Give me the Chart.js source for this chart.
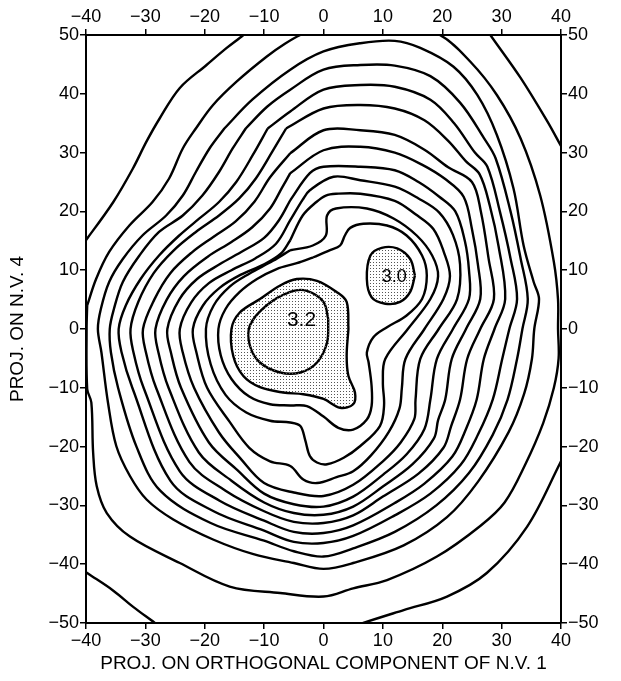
<!DOCTYPE html>
<html>
<head>
<meta charset="utf-8">
<script src="https://cdn.jsdelivr.net/npm/chart.js@4.4.0/dist/chart.umd.min.js"></script>
<style>
  html, body { margin: 0; padding: 0; background: #fff; }
  #wrap { width: 621px; height: 681px; position: relative; }
</style>
</head>
<body>
<div id="wrap"><canvas id="contourChart"></canvas></div>
<script>
// axis ticks
const xTicks = [-40, -30, -20, -10, 0, 10, 20, 30, 40];
const yTicks = [-50, -40, -30, -20, -10, 0, 10, 20, 30, 40, 50];

// peak labels [text, x, y]
const peakLabels = [["3.2", -3.7, 1.5], ["3.0", 11.9, 8.8]];

// contours, [x, y]
const level32 = [[0.8,1.7],[0,4.6],[-2.8,6.5],[-5.6,6.3],[-9.6,4.0],[-12.4,0.6],[-12.4,-2.8],[-10.7,-5.7],[-7.3,-7.4],[-3.9,-7.4],[-1.1,-5.7],[0.6,-2.3],[0.8,1.7]];
const level30a = [[4.2,0],[3.9,4.6],[2.2,6.3],[-1.1,8.2],[-4.5,8.5],[-7.3,7.4],[-10.7,5.1],[-14.1,2.8],[-15.5,0],[-15.2,-4.6],[-13.5,-8.0],[-10.7,-9.9],[-6.8,-10.8],[-3.4,-11.1],[0,-11.9],[2.8,-13.4],[5.0,-12.8],[5.3,-10.8],[4.2,-8.0],[3.9,-4.6],[4.2,0]];
const level30b = [[15.4,9.1],[14.6,11.9],[12.4,13.7],[9.8,13.8],[7.9,12.5],[7.3,8.5],[8.1,5.4],[10.4,4.3],[12.9,4.6],[14.6,6.3],[15.4,9.1]];

const lev1 = [[-1.7,12.2],[1.1,13.4],[2.8,14.2],[3.6,15.9],[4.5,17.2],[6.7,17.9],[10.7,17.6],[14,15.9],[16.6,12.5],[17.4,9.1],[16.6,5.1],[14,2.3],[10.7,0.3],[8.4,-1.4],[7.3,-4],[7.6,-5.7],[8.1,-9.7],[8.1,-13.1],[7.3,-15.4],[5,-17.1],[2.5,-16.8],[0,-14.9],[-2.8,-13.1],[-5.6,-13],[-9,-12.8],[-12.5,-11.5],[-15.5,-8.5],[-17.3,-4.5],[-17.7,0],[-16.5,3.4],[-14.1,6.3],[-11.2,8.5],[-7.9,10.2],[-4.5,11.2],[-1.7,12.2]];
const lev2 = [[-5.6,13.4],[-1.8,14.2],[0.4,15.9],[0.6,19.3],[2.1,20.5],[7.3,20.5],[11.8,18.8],[15.7,15.9],[18.3,12.5],[19.3,9],[18,5.1],[14.2,0],[10.4,-5.1],[10,-9],[10.2,-13],[9.5,-16.5],[6.2,-19.9],[3.4,-21.9],[0.6,-23],[-1.1,-22.7],[-2.3,-21.6],[-3.1,-18.8],[-3.9,-16.5],[-5.6,-15.9],[-9,-15.6],[-13,-14.2],[-16.5,-11.2],[-19,-6],[-19.8,0],[-18.5,4],[-15.8,7.2],[-12.5,9.4],[-8.5,11.6],[-5.6,13.4]];
const lev3 = [[-5.6,15.1],[-3.5,19.3],[-1.2,21.6],[0.4,22.7],[2.1,23],[6.2,23],[12,21.8],[15.5,19.5],[18.5,17],[20.3,13],[21.3,9],[20.2,5.1],[17,0],[13.8,-5.1],[13.2,-10],[12.8,-13.5],[11,-17.5],[8,-21.5],[5,-24.2],[2.2,-25.2],[-1.1,-26.2],[-3.4,-25.6],[-5.6,-23.3],[-9,-22.5],[-12.5,-20.2],[-15.8,-15.8],[-19.6,-10],[-21.4,-4],[-22,0],[-20.3,4],[-17.5,7],[-14,9.2],[-10,11],[-7.2,12.8],[-5.6,15.1]];
const lev4 = [[-5.6,18.5],[-3.5,22],[-2.3,23.6],[1.7,25.9],[6.2,25.3],[12,24.2],[16,22.2],[19.5,19.8],[21.8,16],[23,11],[22.5,5.1],[19.4,0],[16.3,-5.1],[15.5,-12],[15.3,-15.3],[13,-19.3],[10,-22.5],[5,-26.5],[0,-28.4],[-5,-27.8],[-10,-26.2],[-14,-22],[-17.6,-17.6],[-21.8,-10],[-23.7,-4],[-24.2,0],[-22.3,4.5],[-19.3,7.8],[-15.5,10],[-11.5,12],[-8,14.5],[-5.6,18.5]];
const lev5 = [[-5.6,21.9],[-2.3,26.5],[0,27.6],[6.2,27.6],[12,27],[16,25],[19.5,22.5],[22.2,20],[23.8,15],[24.5,10],[24.5,5.1],[21.8,0],[19.1,-5.1],[18,-12],[17,-17],[14,-21.3],[10,-24.8],[5,-28.5],[0,-30.2],[-5,-29.8],[-10,-28],[-14.5,-24],[-19.3,-19.3],[-24,-10],[-25.7,-4],[-26.3,0],[-24.3,5],[-21.3,8.5],[-17.5,11],[-13.5,13.3],[-10,15.5],[-7.5,18.5],[-5.6,21.9]];
const lev6 = [[-5.6,26.5],[0,30.4],[6.2,31],[12,30],[16.5,28],[20.5,25.5],[23.6,22.5],[25,17],[26,11],[26.4,5.1],[24,0],[21.6,-5.1],[20.5,-12],[19.3,-15.5],[18.6,-18.6],[15,-23],[10,-26.8],[5,-30.2],[0,-31.6],[-5,-31.3],[-10,-29.5],[-15.5,-25.8],[-21,-21],[-26.1,-10],[-27.8,-4],[-28.3,0],[-26.4,5],[-23.5,9],[-19.5,12.3],[-15.5,14.8],[-12,17.3],[-9,20.5],[-7,24],[-5.6,26.5]];
const lev7 = [[-5.6,29.9],[0,33.8],[6.2,33.8],[12,33],[17,30.5],[21,27.5],[25,25],[26.5,20],[27.8,12],[28.7,5.1],[26.4,0],[24.2,-5.1],[23,-12],[21.5,-16.5],[20.2,-20.2],[16,-24.6],[10,-28.5],[5,-31.7],[0,-33],[-5,-32.8],[-10,-31],[-16.5,-27.5],[-22.6,-22.6],[-28.2,-10],[-29.9,-4],[-30.4,0],[-28.5,5],[-25.8,9.5],[-22.2,13],[-18.5,15.7],[-14.8,18.3],[-11.6,21.7],[-9,25.8],[-5.6,29.9]];
const lev8 = [[-6.3,34.1],[0,37.5],[6.2,38.1],[12,37.5],[17,35.5],[21,32],[24,28.5],[26.3,26.3],[28,21],[29.5,14],[30.6,5.1],[28.8,0],[27,-5.1],[25.8,-12],[24,-17],[21.7,-21.7],[17,-26.3],[12,-29.6],[5,-33.4],[0,-34.7],[-5,-34.5],[-10,-32.6],[-17.5,-29.2],[-24.2,-24.2],[-30.3,-10],[-32,-4],[-32.5,0],[-31.2,4.6],[-28.6,9.5],[-25.3,13.3],[-21.5,16.5],[-17.6,19.3],[-14.2,22.2],[-11.4,25.6],[-8.6,30.2],[-6.3,34.1]];
const lev9 = [[-9.4,34.1],[-5.6,37],[0,40.7],[6.2,41.5],[12,41.2],[18,39],[22,35],[25.5,30],[27.6,27.6],[29.7,20],[31.5,12],[32.6,5.1],[31.3,0],[30.1,-5.1],[28.5,-12],[26,-18],[23.1,-23.1],[18,-28],[12,-31.7],[5,-35.2],[0,-36.4],[-5,-36.2],[-10,-34.3],[-18.5,-31],[-25.8,-25.8],[-32.2,-10],[-34,-4],[-34.5,0],[-33.3,4],[-30.8,8.5],[-27.7,12.5],[-24.3,15.9],[-20.9,18.8],[-17.6,21.6],[-14.7,25],[-11.9,29.6],[-9.4,34.1]];
const lev10 = [[-13.1,34.1],[-9.5,37.8],[-5.6,40.7],[0,44.1],[6.2,44.9],[12,44.8],[18,43],[23,38.5],[27,32.5],[29,29],[31.5,20],[33.2,12],[34.4,5.1],[33.5,0],[32.6,-5.1],[31,-12],[28.5,-18],[24.5,-24.5],[19,-30],[12,-34.5],[5,-37.3],[0,-38.7],[-5,-37.8],[-10,-36],[-19,-33],[-27.5,-27.5],[-31.5,-20],[-34.6,-10],[-35.8,-4],[-36,0],[-35.3,3.4],[-33.8,8],[-31,12.5],[-27.7,16.5],[-23.7,19.3],[-20.4,22.7],[-17.6,26.7],[-15.3,30.7],[-13.1,34.1]];
const lev11 = [[-16.7,34.1],[-12,39],[-5.6,44.1],[0,47.2],[6.2,48.6],[12,49],[16.3,47.8],[21.9,44.6],[25.9,39.8],[29.2,33],[32,23.9],[33.7,14.2],[35.4,8],[36.3,5.1],[35.5,0],[35.1,-5.1],[33.8,-11],[31.2,-17.5],[26,-26],[20.8,-32],[13.5,-36.8],[5,-39.8],[0,-40.8],[-5,-39.8],[-11.8,-38.3],[-18.6,-35.8],[-25.3,-32.4],[-29.8,-29],[-32.6,-25],[-34.9,-19.9],[-36.3,-12.5],[-37.4,-4],[-38,0],[-37.5,3.4],[-36.1,8],[-33.8,11.9],[-30.5,15.9],[-26.5,19.3],[-23.7,22.7],[-21.5,26.7],[-19.2,30.7],[-16.7,34.1]];
const lev12 = [[-39.8,4],[-38.3,8.5],[-36.1,13.1],[-32.7,17.6],[-28.8,21.6],[-26,25.6],[-23.7,30.7],[-21.5,34.1],[-18.6,38.1],[-14.6,42.1],[-9.6,46.3],[-6.5,48.5],[-3.9,50],[0,51.5],[5,52.2],[12,52.3],[19.6,50],[24.7,45.5],[29.2,39.8],[33.2,32.4],[36.5,22.7],[38.8,11.4],[39.5,5],[39.5,0],[39.6,-5],[38.8,-10],[37,-16],[34,-23],[30.5,-29.5],[26.4,-33.5],[19.1,-38.7],[10.7,-42.7],[5,-44.1],[0,-45.5],[-7.3,-44.9],[-15.8,-43.8],[-24.2,-39.8],[-32.6,-35.3],[-36.5,-31.3],[-38.2,-26.7],[-38.8,-21],[-39.1,-12.5],[-39.8,-10.2],[-39.9,0],[-39.8,4]];
const lev13a = [[-40.5,14.6],[-39.8,15.4],[-35.4,21.6],[-32.1,27.3],[-29.8,31.9],[-27.6,35.8],[-24.2,41],[-19.7,44.9],[-16.3,47.8],[-13.5,50],[-13,50.6]];
const lev13b = [[27.6,50.8],[28.1,50],[33.2,42.7],[37.7,35.3],[39.9,31.3],[40.4,30.4]];
const lev13c = [[-40.5,-41],[-39.8,-41.5],[-35.4,-44.5],[-32,-47.3],[-28.4,-50],[-27.8,-50.5]];
const lev13d = [[6,-50.4],[6.7,-50],[13.5,-47.8],[20.8,-45.5],[27.5,-41.5],[34.3,-33.6],[39.9,-22.7],[40.3,-21.8]];

const lineLevels = [lev1, lev2, lev3, lev4, lev5, lev6, lev7, lev8, lev9, lev10, lev11, lev12, lev13a, lev13b, lev13c, lev13d, level32];

const toPts = (arr) => arr.map((p) => ({ x: p[0], y: p[1] }));
const minusSign = (v) => String(v).replace("-", "\u2212");
const FONT = "'Liberation Sans', Arial, sans-serif";

// stipple for the shaded peaks
const tile = document.createElement("canvas");
tile.width = 3;
tile.height = 3;
const tctx = tile.getContext("2d");
tctx.fillStyle = "#555";
tctx.fillRect(1, 1, 1, 1);

const ctx = document.getElementById("contourChart").getContext("2d");
const dots = ctx.createPattern(tile, "repeat");

const datasets = [
  { data: toPts(level30a), showLine: true, fill: "shape", backgroundColor: dots, borderColor: "#000", borderWidth: 2.4, pointRadius: 0, tension: 0.35 },
  { data: toPts(level30b), showLine: true, fill: "shape", backgroundColor: dots, borderColor: "#000", borderWidth: 2.4, pointRadius: 0, tension: 0.35 },
];
lineLevels.forEach((lv) => {
  datasets.push({ data: toPts(lv), showLine: true, fill: false, borderColor: "#000", borderWidth: 2.4, pointRadius: 0, tension: 0.35 });
});

const peakText = {
  id: "peakText",
  afterDatasetsDraw(chart) {
    const c = chart.ctx;
    const xs = chart.scales.x, ys = chart.scales.y;
    c.save();
    c.fillStyle = "#000";
    c.textAlign = "center";
    c.textBaseline = "middle";
    peakLabels.forEach((l, i) => {
      c.font = (i === 0 ? "21px " : "18px ") + FONT;
      c.fillText(l[0], xs.getPixelForValue(l[1]), ys.getPixelForValue(l[2]));
    });
    c.restore();
  },
};

const tickFont = { family: FONT, size: 18 };
const titleFont = { family: FONT, size: 19 };
const axisCommon = (min, max) => ({
  type: "linear",
  min: min,
  max: max,
  grid: { display: true, drawOnChartArea: false, drawTicks: true, tickLength: 6, color: "#000", lineWidth: 1.5 },
  border: { display: true, color: "#000", width: 2 },
  ticks: { stepSize: 10, color: "#000", font: tickFont, padding: 1, callback: minusSign, autoSkip: false, maxRotation: 0 },
});

new Chart(ctx, {
  type: "scatter",
  data: { datasets: datasets },
  options: {
    responsive: true,
    maintainAspectRatio: false,
    animation: false,
    layout: { padding: 0 },
    plugins: { legend: { display: false }, tooltip: { enabled: false } },
    scales: {
      x: Object.assign(axisCommon(-40, 40), {
        position: "bottom",
        title: { display: true, text: "PROJ. ON ORTHOGONAL COMPONENT OF N.V. 1", color: "#000", font: titleFont, padding: { top: 0, bottom: 6 } },
        afterFit: (s) => { s.height = 58; },
      }),
      x2: Object.assign(axisCommon(-40, 40), {
        position: "top",
        afterFit: (s) => { s.height = 35; },
      }),
      y: Object.assign(axisCommon(-50, 50), {
        position: "left",
        title: { display: true, text: "PROJ. ON N.V. 4", color: "#000", font: titleFont, padding: { top: 6, bottom: 2 } },
        afterFit: (s) => { s.width = 86; },
      }),
      y2: Object.assign(axisCommon(-50, 50), {
        position: "right",
        afterFit: (s) => { s.width = 60; },
      }),
    },
  },
  plugins: [peakText],
});
</script>
</body>
</html>
